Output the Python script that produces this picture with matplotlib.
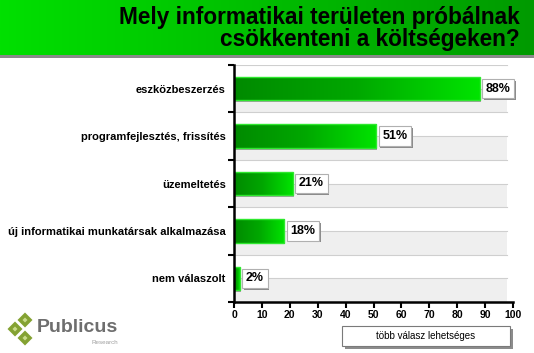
import numpy as np
import matplotlib
matplotlib.use("Agg")
import matplotlib.pyplot as plt
import matplotlib.patheffects as pe
from matplotlib.patches import Rectangle, Polygon
from matplotlib.colors import LinearSegmentedColormap

plt.rcParams['font.family'] = ['Liberation Sans', 'DejaVu Sans']

# data
categories = ['eszközbeszerzés', 'programfejlesztés, frissítés', 'üzemeltetés',
              'új informatikai munkatársak alkalmazása', 'nem válaszolt']
values = [88, 51, 21, 18, 2]
value_labels = ['88%', '51%', '21%', '18%', '2%']
x_ticks = [0, 10, 20, 30, 40, 50, 60, 70, 80, 90, 100]
title = 'Mely informatikai területen próbálnak\ncsökkenteni a költségeken?'
note = 'több válasz lehetséges'

W, H = 534, 353
fig = plt.figure(figsize=(W / 100, H / 100), dpi=100)
fig.patch.set_facecolor('white')

# header banner with gradient
ban = fig.add_axes([0, 1 - 55 / H, 1, 55 / H])
ban_cmap = LinearSegmentedColormap.from_list('ban', ['#00e000', '#009a00'])
ban.imshow(np.linspace(0, 1, 256).reshape(1, -1), cmap=ban_cmap, aspect='auto',
           extent=(0, 1, 0, 1))
ban.set_xlim(0, 1)
ban.set_ylim(0, 1)
ban.axis('off')
fig.add_artist(Rectangle((0, 1 - 58 / H), 1, 3 / H, transform=fig.transFigure,
                         color='#8a8a8a', lw=0))
fig.text(520 / W, 1 - 28.5 / H, title, ha='right', va='center', fontsize=16.3,
         fontweight='bold', linespacing=0.95, color='black')

# main chart
ax = fig.add_axes([234 / W, 1 - 302 / H, 279 / W, 237 / H])
n = len(categories)
ax.set_xlim(0, 100)
ax.set_ylim(n - 0.5, -0.5)

band_end = 0.978
for i in range(n):
    ax.axhspan(i, i + 0.5, xmin=0, xmax=band_end, color='#efefef', lw=0, zorder=0)
for y in np.arange(-0.5, n, 0.5):
    ax.plot([0, 100 * band_end], [y, y], color='#cfcfcf', lw=0.8, zorder=1)

bar_cmap = LinearSegmentedColormap.from_list('bar', ['#008a00', '#00a800', '#00e400'])
grad = np.linspace(0, 1, 256).reshape(1, -1)
hh = 0.245
shadow = [pe.withSimplePatchShadow(offset=(1.2, -1.2), shadow_rgbFace='#8a8a8a', alpha=1.0)]
for i, v in enumerate(values):
    # bar shadow
    ax.add_patch(Rectangle((0.4, i - hh + 0.04), v, 2 * hh, color='#707070',
                           alpha=0.6, lw=0, zorder=2))
    im = ax.imshow(grad, cmap=bar_cmap, aspect='auto',
                   extent=(0, v, i + hh, i - hh), zorder=3)
    rect = Rectangle((0, i - hh), v, 2 * hh, facecolor='none',
                     edgecolor='#2ee82e', lw=1.0, zorder=4)
    ax.add_patch(rect)
    im.set_clip_path(rect)
    # value label box with shadow
    t = ax.annotate(value_labels[i], (v, i), xytext=(4.5, 0), textcoords='offset points',
                    ha='left', va='center', fontsize=9, fontweight='bold', color='black',
                    bbox=dict(boxstyle='square,pad=0.3', fc='white', ec='#b0b0b0', lw=0.8),
                    zorder=6)
    t.get_bbox_patch().set_path_effects(shadow)

# axes styling
for s in ['top', 'right']:
    ax.spines[s].set_visible(False)
for s in ['left', 'bottom']:
    ax.spines[s].set_linewidth(1.8)
    ax.spines[s].set_zorder(7)
ax.set_xticks(x_ticks)
ax.set_xticklabels([str(t) for t in x_ticks], fontsize=7.5, fontweight='bold',
                   family=['Liberation Sans Narrow', 'Liberation Sans'])
ax.tick_params(axis='x', direction='out', length=4, width=1.5, pad=2)
ax.set_yticks(np.arange(-0.5, n, 1.0))
ax.set_yticklabels([])
ax.tick_params(axis='y', which='major', direction='out', length=4, width=1.5)
ax.set_yticks(np.arange(n), minor=True)
ax.set_yticklabels(categories, minor=True, fontsize=8, fontweight='bold')
ax.tick_params(axis='y', which='minor', length=0, pad=6)

# note box
fig.add_artist(Rectangle((345 / W, 1 - 349 / H), 168 / W, 20 / H,
                         transform=fig.transFigure, color='#8c8c8c', lw=0))
fig.add_artist(Rectangle((342 / W, 1 - 346 / H), 168 / W, 20 / H,
                         transform=fig.transFigure, fc='white', ec='#7a7a7a', lw=0.8))
fig.text(426 / W, 1 - 336 / H, note, ha='center', va='center', fontsize=7)

# logo
def diamond(cx, cy, r, color):
    pts = [(cx, cy - r), (cx + r, cy), (cx, cy + r), (cx - r, cy)]
    fig.add_artist(Polygon([(x / W, 1 - y / H) for x, y in pts], closed=True,
                           transform=fig.transFigure, color=color, lw=0))

for cx, cy in [(25, 320), (15, 329), (25, 338)]:
    diamond(cx, cy, 7.5, '#84a232')
    diamond(cx, cy, 2.5, '#c9dc8a')
fig.text(37 / W, 1 - 328 / H, 'Publicus', ha='left', va='center', fontsize=14,
         fontweight='bold', color='#6e6e6e')
fig.text(118 / W, 1 - 343 / H, 'Research', ha='right', va='center', fontsize=4.5,
         color='#a0a0a0')

fig.savefig('out.png', dpi=100)
